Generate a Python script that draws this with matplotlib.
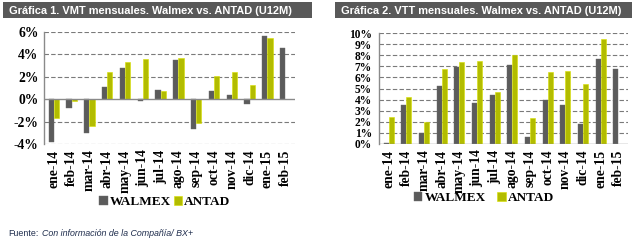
import numpy as np
import matplotlib
matplotlib.use("Agg")
import matplotlib.pyplot as plt
from matplotlib.patches import Rectangle

# Data
months = ["ene-14", "feb-14", "mar-14", "abr-14", "may-14", "jun-14", "jul-14",
          "ago-14", "sep-14", "oct-14", "nov-14", "dic-14", "ene-15", "feb-15"]
vmt_walmex = [-3.8, -0.8, -3.0, 1.1, 2.8, -0.2, 0.8, 3.5, -2.7, 0.7, 0.4, -0.4, 5.6, 4.6]
vmt_antad = [-1.7, -0.2, -2.4, 2.4, 3.3, 3.6, 0.7, 3.7, -2.1, 2.1, 2.4, 1.3, 5.5, np.nan]
vtt_walmex = [0.1, 3.5, 1.0, 5.2, 6.9, 3.7, 4.4, 7.1, 0.6, 4.0, 3.5, 1.8, 7.7, 6.8]
vtt_antad = [2.4, 4.2, 2.0, 6.8, 7.4, 7.5, 4.7, 8.0, 2.3, 6.5, 6.6, 5.4, 9.5, np.nan]
vmt_ticks = [-4, -2, 0, 2, 4, 6]
vtt_ticks = list(range(0, 11))

title1 = "Gráfica 1. VMT mensuales. Walmex vs. ANTAD (U12M)"
title2 = "Gráfica 2. VTT mensuales. Walmex vs. ANTAD (U12M)"

GRAY = "#5b5b5b"
GREEN = "#b2bc00"
W, H = 643, 243

fig = plt.figure(figsize=(W / 100, H / 100), dpi=100)
fig.patch.set_facecolor("white")


def px_axes(x0, y0, x1, y1):
    # pixel box (top-left origin) -> figure fraction axes
    return fig.add_axes([x0 / W, 1 - y1 / H, (x1 - x0) / W, (y1 - y0) / H])


def title_bar(x0, x1, text):
    fig.patches.append(Rectangle((x0 / W, 1 - 18 / H), (x1 - x0) / W, 16 / H,
                                 transform=fig.transFigure, facecolor="#595959",
                                 edgecolor="none"))
    fig.text((x0 + 6) / W, 1 - 10.5 / H, text, color="white", fontsize=7.9,
             fontweight="bold", family="Liberation Sans", va="center", ha="left")


def bar_chart(ax, wal, ant, ticks, ylim, tick_fmt, ysize):
    x = np.arange(len(months))
    w = 0.29
    ax.bar(x - w / 2, wal, w, color=GRAY, edgecolor="#6a6a6a", linewidth=0.3,
           label="WALMEX", zorder=3)
    ax.bar(x + w / 2, ant, w, color=GREEN, edgecolor="#d8e000", linewidth=0.4,
           label="ANTAD", zorder=3)
    ax.set_xlim(-0.55, len(months) - 0.45)
    ax.set_ylim(*ylim)
    ax.set_yticks(ticks)
    ax.set_yticklabels([tick_fmt % t for t in ticks], family="Liberation Serif",
                       fontweight="bold", fontsize=ysize)
    ax.set_xticks(x)
    ax.set_xticklabels(months, rotation=90, family="Liberation Serif",
                       fontweight="bold", fontsize=9.8)
    ax.tick_params(length=0, pad=4)
    for t in ticks:
        if t != 0:
            ax.axhline(t, color="#7a7a7a", linestyle=(0, (4, 2)), linewidth=0.8,
                       zorder=1)
    ax.axhline(0, color="#8a8a8a", linewidth=1.0, zorder=4)
    for s in ["top", "right", "bottom"]:
        ax.spines[s].set_visible(False)
    ax.spines["left"].set_color("#8a8a8a")
    ax.spines["left"].set_linewidth(1.0)


legend_font = {"family": "Liberation Serif", "weight": "bold", "size": 9.5}

# Chart 1
title_bar(3, 312, title1)
ax1 = px_axes(44, 32, 295, 144)
bar_chart(ax1, vmt_walmex, vmt_antad, vmt_ticks, (-4, 6), "%d%%", 9.8)
ax1.legend(loc="center", bbox_to_anchor=(165 / W, 1 - 202 / H),
           bbox_transform=fig.transFigure, ncol=2, frameon=False,
           prop=legend_font, handlelength=0.65, handleheight=0.65,
           handletextpad=0.15, columnspacing=0.2, borderaxespad=0)

# Chart 2
title_bar(335, 632, title2)
ax2 = px_axes(379, 33, 628, 144)
bar_chart(ax2, vtt_walmex, vtt_antad, vtt_ticks, (0, 10), "%d%%", 8.3)
ax2.tick_params(axis="y", pad=5)
ax2.legend(loc="center", bbox_to_anchor=(484 / W, 1 - 198 / H),
           bbox_transform=fig.transFigure, ncol=2, frameon=False,
           prop=legend_font, handlelength=0.65, handleheight=0.65,
           handletextpad=0.15, columnspacing=0.9, borderaxespad=0)

# Source note
fig.text(8 / W, 1 - 234 / H, "Fuente:", color="#1f2d4d", fontsize=6.4,
         family="Liberation Sans", va="center", ha="left")
fig.text(42 / W, 1 - 234 / H, "Con información de la Compañía/ BX+",
         color="#1f2d4d", fontsize=6.4, family="Liberation Sans",
         style="italic", va="center", ha="left")

fig.savefig("out.png", dpi=100)
